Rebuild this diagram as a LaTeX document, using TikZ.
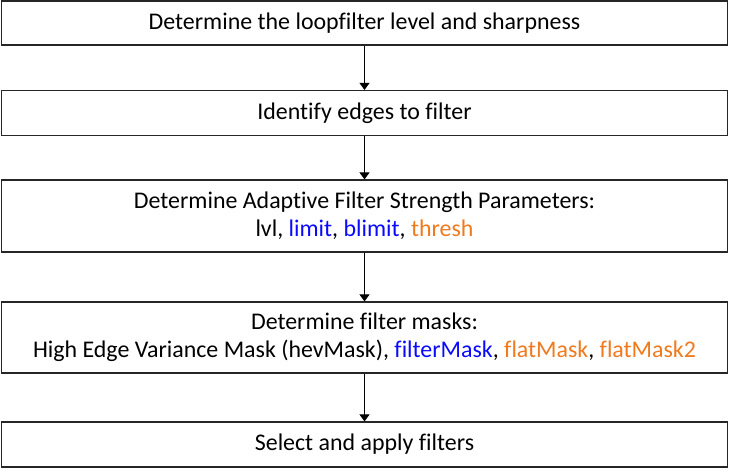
\documentclass[tikz,border=0pt]{standalone}
\usepackage{fontspec}
\setmainfont{Carlito}[Ligatures=NoCommon]
\usetikzlibrary{arrows.meta}
\definecolor{kwblue}{RGB}{10,10,255}
\definecolor{kworange}{RGB}{240,122,30}
\begin{document}
\begin{tikzpicture}[x=1bp,y=-1bp,
  stepbox/.style={draw=black!85, line width=1.2bp, fill=white, minimum width=726bp,
    align=center, inner sep=0pt, font=\fontsize{24}{28.5}\selectfont},
  flow/.style={draw=black, line width=1bp, -{Triangle[width=10bp,length=7bp]}}]
\useasboundingbox (0,0) rectangle (729,471);
\node[stepbox, minimum height=44bp] (s1) at (364.5,23) {Determine the loopfilter level and sharpness};
\node[stepbox, minimum height=45bp] (s2) at (364.5,113) {Identify edges to filter};
\node[stepbox, minimum height=72bp] (s3) at (364.5,216) {Determine Adaptive Filter Strength Parameters:\\
  lvl, \textcolor{kwblue}{limit}, \textcolor{kwblue}{blimit}, \textcolor{kworange}{thresh}};
\node[stepbox, minimum height=71bp] (s4) at (364.5,337.5) {Determine filter masks:\\
  High Edge Variance Mask (hevMask), \textcolor{kwblue}{filterMask}, \textcolor{kworange}{flatMask}, \textcolor{kworange}{flatMask2}};
\node[stepbox, minimum height=45bp] (s5) at (364.5,444.5) {Select and apply filters};
\draw[flow] (s1) -- (s2);
\draw[flow] (s2) -- (s3);
\draw[flow] (s3) -- (s4);
\draw[flow] (s4) -- (s5);
\end{tikzpicture}
\end{document}
